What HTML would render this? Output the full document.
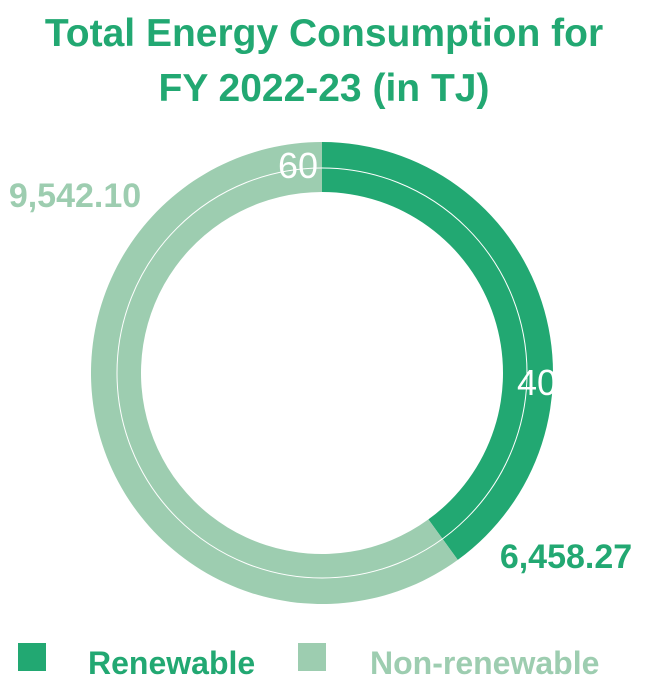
<!DOCTYPE html>
<html><head><meta charset="utf-8"><style>
body{margin:0;background:#fff;width:648px;height:686px;overflow:hidden;font-family:"Liberation Sans",sans-serif;}
</style></head><body>
<svg width="648" height="686">
<text x="324" y="46" text-anchor="middle" font-size="39" font-weight="bold" fill="#22a872">Total Energy Consumption for</text>
<text x="324" y="101" text-anchor="middle" font-size="39" font-weight="bold" fill="#22a872">FY 2022-23 (in TJ)</text>
<g id="donut"></g>
<rect x="18" y="643" width="28" height="28" fill="#22a872"/>
<text x="88" y="674" font-size="32" font-weight="bold" fill="#22a872">Renewable</text>
<rect x="298" y="643" width="28" height="28" fill="#9dcdb0"/>
<text x="370" y="674" font-size="32" font-weight="bold" fill="#9dcdb0">Non-renewable</text>
</svg>
<script>
const categories=["Renewable","Non-renewable"];
const percents=[40,60];
const values=["6,458.27","9,542.10"];
const colors=["#22a872","#9dcdb0"];
const cx=322,cy=373,R=231,r=181,lr=205;
const g=document.getElementById('donut');
const ns="http://www.w3.org/2000/svg";
const total=percents.reduce((a,b)=>a+b,0);
function pt(rad,ang){return [cx+rad*Math.sin(ang),cy-rad*Math.cos(ang)];}
let a0=0;
percents.forEach((p,i)=>{
  const a1=a0+p/total*2*Math.PI;
  const large=(a1-a0)>Math.PI?1:0;
  const [x0,y0]=pt(R,a0),[x1,y1]=pt(R,a1),[x2,y2]=pt(r,a1),[x3,y3]=pt(r,a0);
  const path=document.createElementNS(ns,'path');
  path.setAttribute('d',`M${x0},${y0}A${R},${R} 0 ${large} 1 ${x1},${y1}L${x2},${y2}A${r},${r} 0 ${large} 0 ${x3},${y3}Z`);
  path.setAttribute('fill',colors[i]);
  
  
  g.appendChild(path);
  a0=a1;
});
const c=document.createElementNS(ns,'circle');
c.setAttribute('cx',cx);c.setAttribute('cy',cy);c.setAttribute('r',lr);
c.setAttribute('fill','none');c.setAttribute('stroke','#fff');c.setAttribute('stroke-width','1');


g.appendChild(c);
// percent labels
const pctPos=[[537,395],[298,178]];
const valPos=[[566,568,'middle'],[75,207,'middle']];
percents.forEach((p,i)=>{
  const t=document.createElementNS(ns,'text');
  t.setAttribute('x',pctPos[i][0]);t.setAttribute('y',pctPos[i][1]);
  t.setAttribute('text-anchor','middle');t.setAttribute('font-size','36');
  t.setAttribute('fill','#fff');
  
  
  t.textContent=p;
  g.appendChild(t);
  const v=document.createElementNS(ns,'text');
  v.setAttribute('x',valPos[i][0]);v.setAttribute('y',valPos[i][1]);
  v.setAttribute('text-anchor',valPos[i][2]);v.setAttribute('font-size','34');
  v.setAttribute('font-weight','bold');
  v.setAttribute('fill',colors[i]);
  
  
  v.textContent=values[i];
  g.appendChild(v);
});
</script>
</body></html>
